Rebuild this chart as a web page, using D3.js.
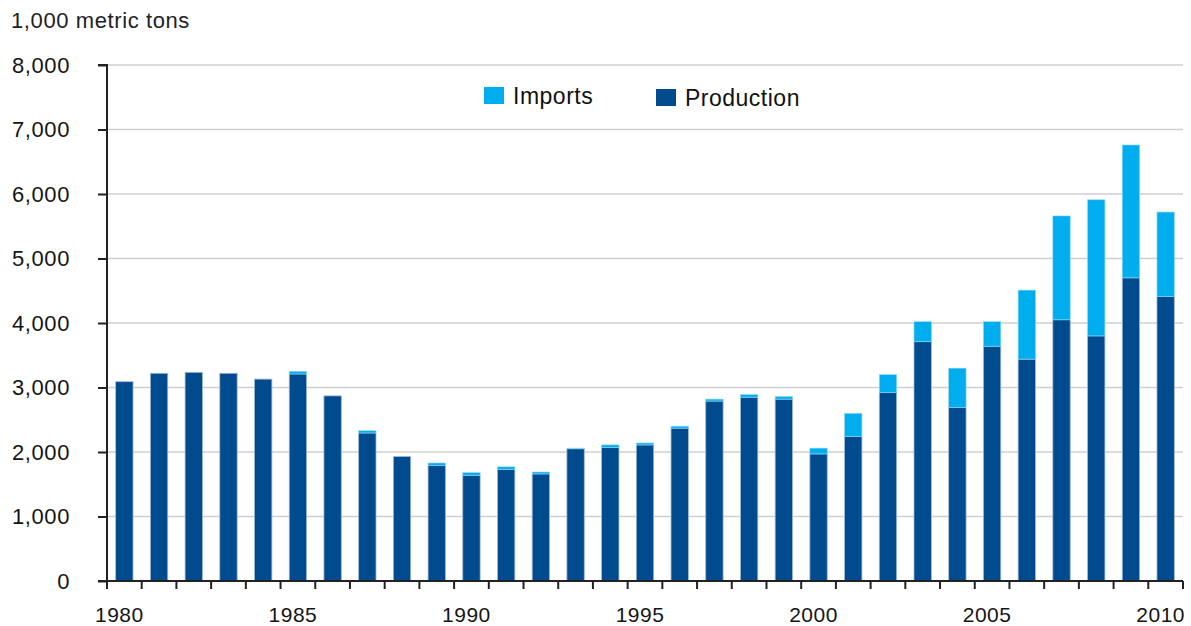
<!DOCTYPE html>
<html><head><meta charset="utf-8">
<script src="https://cdn.jsdelivr.net/npm/d3@7"></script>
<style>body{margin:0;background:#fff}svg{display:block;font-family:"Liberation Sans",Arial,Helvetica,sans-serif}</style>
</head><body>
<script>
const years = d3.range(1980, 2011);
const production = [3090,3220,3235,3220,3130,3210,2870,2295,1930,1790,1640,1730,1660,2050,2070,2110,2370,2790,2850,2820,1970,2240,2920,3710,2690,3640,3440,4050,3800,4700,4410];
const imports    = [0,0,0,0,0,40,0,35,0,40,40,40,30,10,40,30,30,30,40,40,90,360,280,310,610,380,1070,1610,2110,2060,1310];
const yTicks = [0,1000,2000,3000,4000,5000,6000,7000,8000];
const xLabels = [1980,1985,1990,1995,2000,2005,2010];
const colors = {Imports:"#00adee", Production:"#004b8d"};

const W=1191,H=626, L=107, R=1183, T=65, B=581;
const svg=d3.select("body").append("svg").attr("width",W).attr("height",H);
const x=d3.scaleBand().domain(years).range([L,R]).paddingInner(0.5).paddingOuter(0.25);
const xb=d3.scaleBand().domain(years).range([L,R]);
const y=d3.scaleLinear().domain([0,8000]).range([B,T]);

// gridlines
svg.append("g").selectAll("line").data(yTicks.filter(d=>d>0)).join("line")
  .attr("x1",L).attr("x2",R).attr("y1",d=>y(d)).attr("y2",d=>y(d))
  .attr("stroke","#cfcfcf").attr("stroke-width",1.5);

// bars
const data=years.map((yr,i)=>({yr,p:production[i],m:imports[i]}));
const g=svg.append("g");
g.selectAll("rect.p").data(data).join("rect").attr("class","p")
  .attr("x",d=>x(d.yr)).attr("width",x.bandwidth())
  .attr("y",d=>y(d.p)).attr("height",d=>y(0)-y(d.p))
  .attr("fill",colors.Production).attr("stroke","#9fb8d6").attr("stroke-width",0.8);
g.selectAll("rect.m").data(data.filter(d=>d.m>0)).join("rect").attr("class","m")
  .attr("x",d=>x(d.yr)).attr("width",x.bandwidth())
  .attr("y",d=>y(d.p+d.m)).attr("height",d=>y(d.p)-y(d.p+d.m))
  .attr("fill",colors.Imports).attr("stroke","#8fd8f6").attr("stroke-width",0.6);

// y axis
const ya=svg.append("g").attr("transform",`translate(${L},0)`)
  .call(d3.axisLeft(y).tickValues(yTicks).tickFormat(d3.format(",")).tickSize(9).tickPadding(28));
ya.selectAll("text").attr("font-size",22).attr("letter-spacing",0.6).attr("fill","#151515").attr("font-family","Liberation Sans, Arial, sans-serif");
ya.select(".domain").attr("stroke","#222").attr("stroke-width",2).attr("d",`M-9,${T}H0V${B}`);
ya.selectAll(".tick line").attr("stroke","#222").attr("stroke-width",2);

// x axis: ticks at band boundaries
const xg=svg.append("g").attr("transform",`translate(0,${B})`);
xg.append("line").attr("x1",L-9).attr("x2",R).attr("stroke","#222").attr("stroke-width",2);
const bounds=years.map(yr=>xb(yr)).concat([R]);
xg.selectAll("line.t").data(bounds).join("line").attr("class","t")
  .attr("x1",d=>d).attr("x2",d=>d).attr("y1",0).attr("y2",8).attr("stroke","#222").attr("stroke-width",2);
xg.selectAll("text").data(xLabels).join("text")
  .attr("x",d=>xb(d)+xb.bandwidth()/2-5).attr("y",41).attr("text-anchor","middle")
  .attr("font-size",21).attr("letter-spacing",0.5).attr("fill","#151515").text(d=>d);

// unit label
svg.append("text").attr("x",11).attr("y",28).attr("font-size",22).attr("letter-spacing",0.6).attr("fill","#222").text("1,000 metric tons");

// legend
const leg=[{k:"Imports",x:484,y:87},{k:"Production",x:656,y:89}];
const lg=svg.append("g").selectAll("g").data(leg).join("g").attr("transform",d=>`translate(${d.x},${d.y})`);
lg.append("rect").attr("width",20).attr("height",17).attr("fill",d=>colors[d.k]);
lg.append("text").attr("x",29).attr("y",17).attr("font-size",23).attr("letter-spacing",0.5).attr("fill","#111").text(d=>d.k);
</script>
</body></html>
